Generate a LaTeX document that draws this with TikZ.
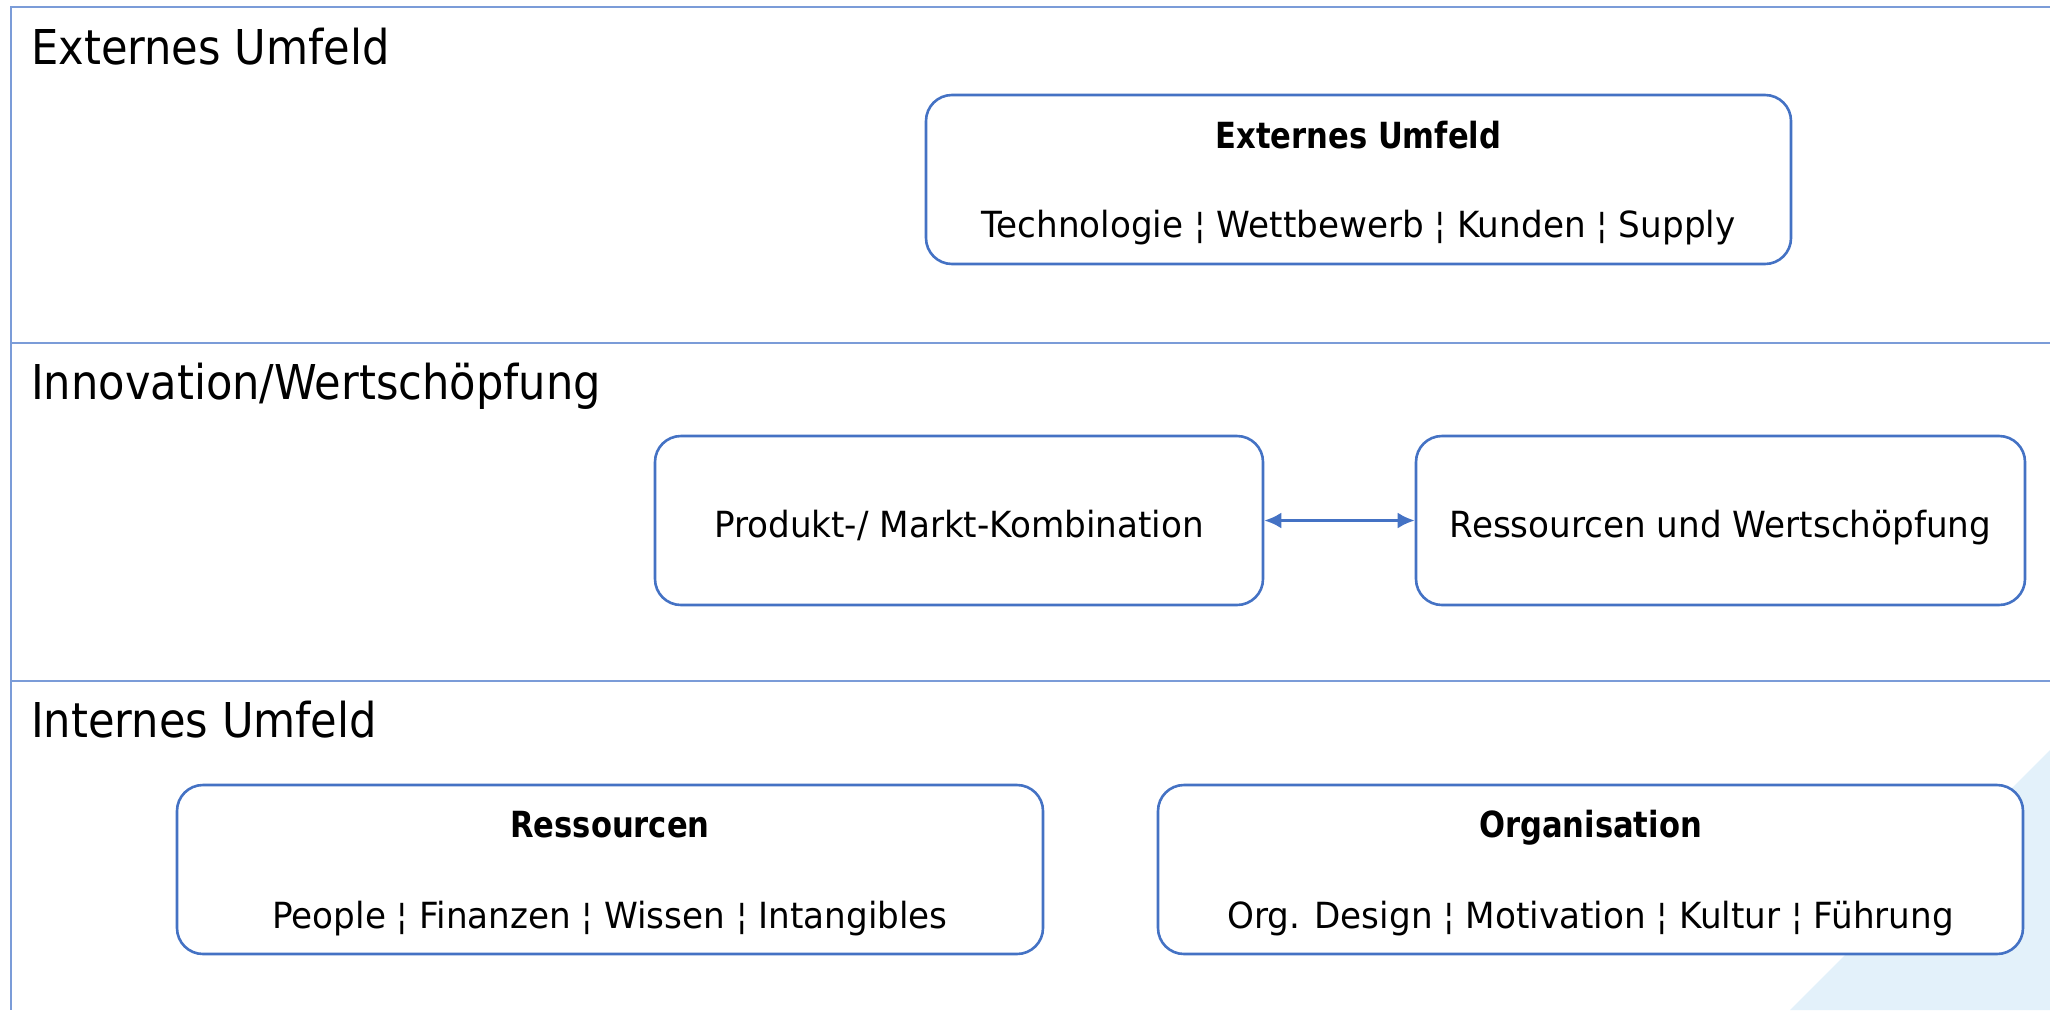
\documentclass[tikz,border=0pt]{standalone}
\usepackage{fontspec}
\setmainfont[FakeStretch=0.9]{DejaVu Sans}
\newfontfamily\boxfont[FakeStretch=0.95]{DejaVu Sans}
\newfontfamily\titlefont[FakeStretch=0.85]{DejaVu Sans}
\usetikzlibrary{arrows.meta}
\definecolor{frameblue}{HTML}{7B9CD8}
\definecolor{boxblue}{HTML}{4472C4}
\definecolor{tri}{HTML}{E3F1FA}
\tikzset{
  section/.style={anchor=base west, inner sep=0pt, font=\fontsize{48}{56}\selectfont},
  box/.style={draw=boxblue, line width=2.6pt, rounded corners=26pt, fill=white, inner sep=0pt},
  boxtext/.style={anchor=base, inner sep=0pt, font=\boxfont\fontsize{36}{42}\selectfont},
  boxtitle/.style={anchor=base, inner sep=0pt, font=\titlefont\fontsize{36}{42}\selectfont\bfseries},
  frameline/.style={draw=frameblue, line width=2.2pt},
  link/.style={draw=boxblue, line width=2.8pt, {Latex[length=17pt,width=16pt]}-{Latex[length=17pt,width=16pt]}}
}
\begin{document}
\begin{tikzpicture}[x=1pt,y=-1pt]
\useasboundingbox (0,0) rectangle (2050,1010);
\fill[tri] (1790,1010) -- (2050,750) -- (2050,1010) -- cycle;
% frame
\coordinate (tl) at (11,7);
\coordinate (tr) at (2050,7);
\coordinate (bl) at (11,1010);
\coordinate (d1l) at (11,343);
\coordinate (d1r) at (2050,343);
\coordinate (d2l) at (11,681);
\coordinate (d2r) at (2050,681);
\draw[frameline] (tr) -- (tl) -- (bl);
\draw[frameline] (d1l) -- (d1r);
\draw[frameline] (d2l) -- (d2r);
% section labels
\node[section] (s1) at (31,64) {Externes Umfeld};
\node[section] (s2) at (31,399) {Innovation/Wertschöpfung};
\node[section] (s3) at (31,737) {Internes Umfeld};
% boxes
\node[box, minimum width=865pt, minimum height=169pt] (ext) at (1358.5,179.5) {};
\node[boxtitle] (extT) at (1358.5,148) {Externes Umfeld};
\node[boxtext] (extS) at (1358.5,237) {Technologie ¦ Wettbewerb ¦ Kunden ¦ Supply};
\node[box, minimum width=608pt, minimum height=169pt] (prod) at (959,520.5) {};
\node[boxtext] (prodT) at (959,537) {Produkt-/ Markt-Kombination};
\node[box, minimum width=609pt, minimum height=169pt] (wert) at (1720.5,520.5) {};
\node[boxtext] (wertT) at (1720.5,537) {Ressourcen und Wertschöpfung};
\node[box, minimum width=866pt, minimum height=169pt] (ress) at (610,869.5) {};
\node[boxtitle] (ressT) at (610,837) {Ressourcen};
\node[boxtext] (ressS) at (610,928) {People ¦ Finanzen ¦ Wissen ¦ Intangibles};
\node[box, minimum width=865pt, minimum height=169pt] (org) at (1590.5,869.5) {};
\node[boxtitle] (orgT) at (1590.5,837) {Organisation};
\node[boxtext] (orgS) at (1590.5,928) {Org. Design ¦ Motivation ¦ Kultur ¦ Führung};
% connector
\draw[link] (prod.east) -- (wert.west);
\end{tikzpicture}
\end{document}
